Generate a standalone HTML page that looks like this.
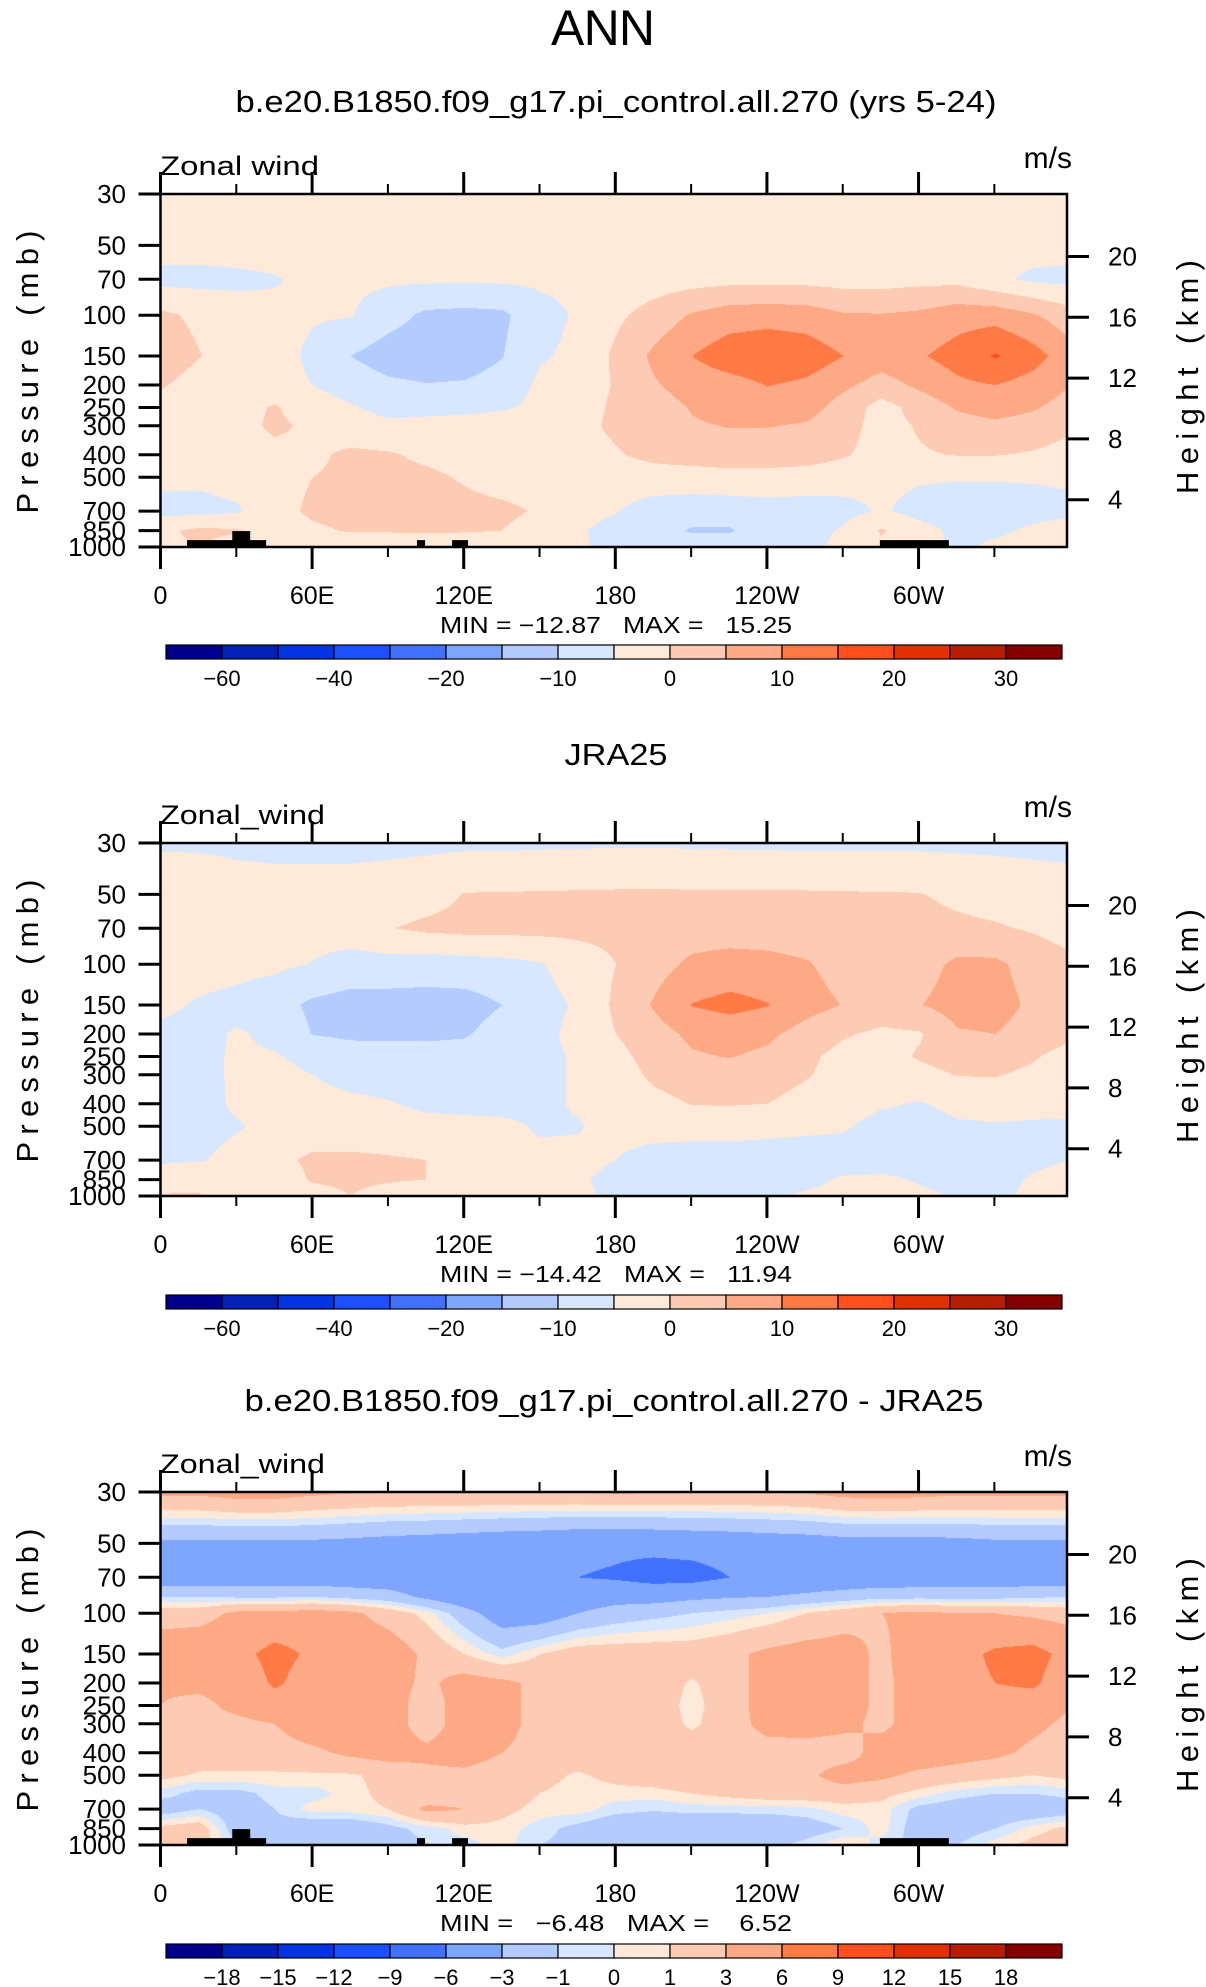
<!DOCTYPE html>
<html>
<head>
<meta charset="utf-8">
<style>
html,body{margin:0;padding:0;background:#fff;}
#page{position:relative;width:1206px;height:1987px;overflow:hidden;background:#fff;}
canvas{position:absolute;}
#overlay{position:absolute;left:0;top:0;}
text{font-family:"Liberation Sans",sans-serif;fill:#000;}
</style>
</head>
<body>
<div id="page">
<canvas id="cv0"></canvas>
<canvas id="cv1"></canvas>
<canvas id="cv2"></canvas>
<svg id="overlay" width="1206" height="1987" xmlns="http://www.w3.org/2000/svg">
<text x="603" y="45" font-size="50" text-anchor="middle" textLength="104">ANN</text>
<text x="616" y="112" font-size="31" text-anchor="middle" textLength="761" lengthAdjust="spacingAndGlyphs">b.e20.B1850.f09_g17.pi_control.all.270 (yrs 5-24)</text>
<text x="616" y="765" font-size="31" text-anchor="middle" textLength="103" lengthAdjust="spacingAndGlyphs">JRA25</text>
<text x="614" y="1411" font-size="31" text-anchor="middle" textLength="739" lengthAdjust="spacingAndGlyphs">b.e20.B1850.f09_g17.pi_control.all.270 - JRA25</text>
<g id="axes"></g>
</svg>
</div>
<script>
// ---------- data ----------
const lonGrid = [0,15,30,45,60,75,90,105,120,135,150,165,180,195,210,225,240,255,270,285,300,315,330,345,360];
const levs12 = [30,50,70,100,150,200,250,300,400,500,700,850,1000];
const levs3 = [30,50,70,85,100,150,200,250,300,400,500,600,700,850,1000];

const modelU = [
[2,2,2,2,2,2,2,2,2,2,2,2,2,2,2,2,2,2,2,2,2,2,2,2,2],
[2,2,2,2,2,2,2,2,2,2,2,2,2,2,2,2,2,2,2,2,2,2,2,2,2],
[-1.5,-1.5,-1,-0.3,1,1,0.8,0.8,0.8,0.8,0.8,1,1.5,2.5,3,3.5,3.5,3.5,3,3,3.5,3.5,1,-1,-1.5],
[6,4,2,1,0.5,0.3,-3,-6,-6.5,-6,-1.5,0.5,4,7,10.5,12.5,13,12.5,10.5,10.3,11,13,13,10.5,7],
[8,5.2,3,2,-1,-5,-7.5,-8,-7.5,-5.2,-0.5,1,6,11,15,18,19,18,15,12.5,14.5,17,20.5,17,12],
[5.5,3,2,1.5,0,-2,-4,-4.8,-4.5,-3,1,2,5.5,9.5,12,13,15.2,14,11,8,11,14,15,13,10],
[3,2.5,3,5.5,2,0.5,-1.5,-1,-1,-0.5,1,2.5,6,8,10.3,12,12.5,12,8,3,7,10.5,12,10.5,8],
[2,2,3,6,4,2,1,1,1.5,2,2.5,3.5,6,8,9.5,10.2,10.2,9.5,7,3,5.5,8,9,8,6],
[2,2,2.5,3.5,4,6,5.5,4,3,2.5,2.5,3,4.5,6.5,7.5,8,8,7.5,5.5,3,4.5,5.2,5.2,4.5,3],
[1,1,1.5,3,5,6,6.5,6,4.5,3,2.5,2,2,2.5,2.5,3,3,2.5,2,1,0.5,0.3,0.3,0.5,1],
[-1.5,-1.5,-0.5,3,6,7,7,7,6.5,6,4.5,1.5,0.2,-2,-2.5,-2.5,-2,-2,-1.5,0.5,-1.5,-2,-2,-2,-1.5],
[4,6,5.5,3,4,5.5,5.5,5.5,5.5,5,3,0.5,-1.5,-3,-5.5,-5.5,-2,-1.5,0.5,5.5,1.5,-1,-1,1,3],
[4,5,3,1,1,1,1,2,1,1,1,0.5,-1,-2,-2,-2,-2,-1,1,4,2,-1,1,2,4]
];

const obsU = [
[-1,-1,-1,-1,-1,-1,-1,-1,-1,-1,-0.8,-0.7,-0.6,-0.6,-0.7,-0.8,-0.9,-1,-1,-1,-1,-1,-1,-1,-1],
[5.1,4,2,1.5,1.5,1.5,2,3,5.2,5.3,5.4,5.5,5.6,5.6,5.6,5.5,5.5,5.5,5.4,5.3,5.2,4,3,2,1.5],
[1.5,1.5,1.5,1.5,2,2.5,4.8,6,6.5,6.5,6.5,6.5,6.5,7,7.5,7.5,7.5,7,6.5,6.5,6.5,6,5.5,4.5,3],
[2,2,1.5,1,-0.2,-2,-2,-2.5,-2,-1.5,-0.3,2,5,8,11,12,11.5,10.5,8,7,8,11,11,8,6],
[1,-0.5,-1.5,-3,-6,-7,-7,-7,-7,-5,-1.5,0.5,6,10.5,15.2,16.5,15.2,12,9.8,8,9.8,12,12,9,6],
[-1,-1.5,0.5,-1,-5.2,-6,-6,-6,-5.5,-3,-1.5,1.5,5,8,11,12,11,8,5.5,4,4.5,9.5,10,8,6],
[-1,-1,0.5,0.3,-1,-2.5,-3,-3,-3,-2,-1,0.5,3.5,7,9.5,10.2,9,6,3.5,3,5.5,7,7,5.5,3],
[-1,-1,0.5,1,0,-1.5,-2,-2.5,-2.5,-2,-1,0.5,2.5,6,7.5,8,7.5,5.5,3,2.5,3.5,5.2,5.3,4,2],
[-1,-1.2,0.5,1.5,1.5,1,0.3,-1,-1.5,-1.5,-1,0.5,2,3.5,5.2,5.3,5,3,2,0.5,-0.3,1,1.5,1.2,1],
[-1,-1,-0.3,1,2,2,2,1.5,1.5,1,-0.5,-0.3,1.5,2,2,2,1.5,1,0.5,-1.5,-1.5,-0.5,-0.3,-0.5,-0.5],
[-0.5,-0.3,1,3.5,6,6,5.5,5,2,1,1,1,0,-2,-2.5,-2.5,-2.5,-2.5,-2,-2.5,-2.5,-2.5,-2,-1,0],
[2,3,1,2,5.5,6,5.5,5,1.5,1,1,0.5,-1,-2,-2,-2,-1.5,-1,0.5,1,-0.5,-1.5,-1.5,0.5,2],
[5.5,5.5,2,1.5,3,5,3,1,1,1,1,0.5,-0.5,-1,-1,-1,-0.5,0.5,1,4,1,-0.5,-1,1,2]
];

const diffU = [
[3.5,3.5,4,4,3.5,3.2,3,3,3,3,3,3,3.3,3.2,3,3,3,3.2,3.8,4,3.8,3.5,3.5,3.5,3.5],
[-3.5,-3.5,-3.5,-3.5,-3.5,-3.7,-4,-4.2,-4.5,-4.8,-5,-5.3,-5.5,-5.3,-5,-4.8,-4.5,-4.3,-4,-4,-4,-3.8,-3.5,-3.5,-3.5],
[-4.5,-4.5,-4.5,-4.5,-4.5,-4.6,-4.7,-4.8,-5,-5.5,-5.5,-6,-6.3,-7,-7,-6,-5.5,-5,-4.8,-4.7,-4.6,-4.5,-4.5,-4.5,-4.5],
[-1,-1,-1.2,-1.2,-1,-1.5,-2,-3.5,-5,-5.5,-5,-4.5,-4,-4,-3.5,-3.2,-3,-2.5,-2,-1.5,-1.5,-1.5,-1.5,-1.2,-1],
[2,2,3.5,3.5,4,3.5,2,0.5,-2,-4.5,-4.5,-3,-2,-1.5,-1,-0.5,0,1,2,3,3.5,3,3,2.5,2],
[4.5,5,5,7,5.5,5,4.5,2.5,1,-0.5,1,2,2,2,2,2.5,3.5,4,4,2.5,4.5,5,6.5,7,5],
[3.2,3.5,3.7,6.5,4.5,4.5,4,2.5,4,3.5,2.5,2,2,2,0.8,2,4,4.5,4,2.5,4,5,6,6.5,4],
[3,2.5,3.5,4.5,4.5,4,4,2,4,4,2,2,2,2,0.5,2,4,4.5,4,2.5,4,5,5,4.5,3],
[2.5,2.5,2.5,3,4.5,4.5,4,2,4,4,2,2,2,2,0.7,2,3.8,4,3.5,2.5,4,4.5,4.5,3.5,2.5],
[2,2,2,2,2.5,3.5,4,3.5,4,3,2,2,2,2,2,2,2,2,2,4,4.5,4,3.5,2.5,2],
[1.5,0.8,0.8,0.8,0.8,0.8,1.5,2.5,2.5,2,1.5,0.8,1.5,2,2.5,2,2,2.5,4,3.5,2.5,2,1.5,1,1.5],
[-0.5,-1.5,-1.5,-0.5,-0.5,0.5,1.5,1.5,2,2,1,0.5,0.5,0.5,1,1.5,2,2,2,1.5,0.5,-0.5,-1,-1,-0.5],
[-2,-1,-2,-1,0.5,0.5,1,3.5,3,1.5,0.5,0.5,-0.5,-0.8,-0.5,-0.5,-0.5,-0.3,0.5,0.5,-1.5,-2,-2.5,-2.5,-2],
[1.5,2,-2,-1.5,-2.5,-2.5,-1.5,-0.5,0.5,0.5,-0.5,-1.5,-2.5,-2.8,-2.8,-2.8,-2.5,-2,-1,0.5,-2,-2,-1,0.5,1.5],
[2,2,-1,-2,-2.5,-2.5,-2,-1,-0.5,0.5,-1,-1.5,-2,-2,-2,-2,-1.5,-0.5,1,-0.5,-1.5,-1,0.5,1.5,2]
];

const levelsAbs = [-50,-40,-30,-20,-15,-10,-5,0,5,10,15,20,25,30,35];
const levelsDiff = [-18,-15,-12,-9,-6,-3,-1,0,1,3,6,9,12,15,18];
const cbLabelsAbs = ["−60","","−40","","−20","","−10","","0","","10","","20","","30"];
const cbLabelsDiff = ["−18","−15","−12","−9","−6","−3","−1","0","1","3","6","9","12","15","18"];
const palette = ["#00008c","#0321b5","#0333e3","#1b4fff","#4172ff","#7fa6ff","#b3cbff","#d6e7ff","#ffeada","#fdcbb3","#fda985","#ff7a45","#ff4f1d","#e03200","#b51e00","#870000"];

const pTicks = [30,50,70,100,150,200,250,300,400,500,700,850,1000];
const hTicks = [4,8,12,16,20];
const lonMajor = [0,60,120,180,240,300];
const lonLabels = ["0","60E","120E","180","120W","60W"];
const lonMinor = [30,90,150,210,270,330];
// land mask: [lon start, lon end, top pressure]
const landLon0 = [10.5,28.4,101.5,115.4,284.7];
const landLon1 = [41.8,35.5,104.7,121.7,312];
const landTop = [934,854,934,934,934];
const minMax = ["MIN = −12.87   MAX =   15.25","MIN = −14.42   MAX =   11.94","MIN =   −6.48   MAX =    6.52"];

// ---------- geometry ----------
const PL = 160.5, PW = 906.5, PH = 353, LONMAX = 358.75;
const tops = [194, 843, 1492];
const CBX = 166, CBW = 56, CBH = 14;
const cbTops = [645, 1295, 1944];
const LN = Math.log(1000/30);
function xs(lon){ return PL + lon*PW/LONMAX; }
function ys(p, top){ return top + PH*Math.log(p/30)/LN; }
function yh(z, top){ return top + 62.5 + (20 - z)*15.2; }

function sample(grid, levs, lon, p){
  let k = 0;
  while (k < levs.length-2 && p > levs[k+1]) k++;
  let t = (Math.log(p) - Math.log(levs[k]))/(Math.log(levs[k+1]) - Math.log(levs[k]));
  t = Math.max(0, Math.min(1, t));
  let i = Math.min(Math.floor(lon/15), lonGrid.length-2);
  let u = (lon - lonGrid[i])/15;
  const a = grid[k][i], b = grid[k][i+1], c = grid[k+1][i], d = grid[k+1][i+1];
  return (a*(1-u) + b*u)*(1-t) + (c*(1-u) + d*u)*t;
}
function hex(h){ return [parseInt(h.substr(1,2),16),parseInt(h.substr(3,2),16),parseInt(h.substr(5,2),16)]; }
const rgb = palette.map(hex);

function drawField(id, grid, levs, bounds, top){
  const cv = document.getElementById(id);
  const w = Math.round(PW), h = PH;
  cv.width = w; cv.height = h;
  cv.style.left = PL + 'px'; cv.style.top = top + 'px';
  const ctx = cv.getContext('2d');
  const img = ctx.createImageData(w, h);
  for (let j = 0; j < h; j++){
    const p = 30*Math.exp((j+0.5)/h*LN);
    for (let i = 0; i < w; i++){
      const lon = (i+0.5)/w*LONMAX;
      const v = sample(grid, levs, lon, p);
      let c = 0;
      while (c < bounds.length && v >= bounds[c]) c++;
      const col = rgb[c];
      const o = (j*w + i)*4;
      img.data[o] = col[0]; img.data[o+1] = col[1]; img.data[o+2] = col[2]; img.data[o+3] = 255;
    }
  }
  ctx.putImageData(img, 0, 0);
}
drawField('cv0', modelU, levs12, levelsAbs, tops[0]);
drawField('cv1', obsU, levs12, levelsAbs, tops[1]);
drawField('cv2', diffU, levs3, levelsDiff, tops[2]);

// ---------- axes ----------
const NS = "http://www.w3.org/2000/svg";
const g = document.getElementById('axes');
function el(tag, attrs, parent){
  const e = document.createElementNS(NS, tag);
  for (const k in attrs) e.setAttribute(k, attrs[k]);
  (parent || g).appendChild(e);
  return e;
}
function txt(s, attrs, parent){ const e = el('text', attrs, parent); e.textContent = s; return e; }

for (let pi = 0; pi < 3; pi++){
  const top = tops[pi], bot = top + PH;
  const pg = el('g', {});
  
  
  if (pi !== 1){
    for (let k = 0; k < landLon0.length; k++){
      const r = el('rect', {x: xs(landLon0[k]), y: ys(landTop[k], top), width: xs(landLon1[k]) - xs(landLon0[k]), height: bot - ys(landTop[k], top), fill: '#000'}, pg);
      
      
    }
  }
  const fr = el('rect', {x: PL, y: top, width: PW, height: PH, fill: 'none', stroke: '#000', 'stroke-width': 2.5}, pg);
  
  
  for (let k = 0; k < pTicks.length; k++){
    const y = ys(pTicks[k], top);
    const t = el('line', {x1: PL-22, x2: PL, y1: y, y2: y, stroke: '#000', 'stroke-width': 3}, pg);
    
    
    const l = txt(String(pTicks[k]), {x: 126, y: y+9, 'font-size': 26, 'text-anchor': 'end'}, pg);
    
    
  }
  for (let k = 0; k < hTicks.length; k++){
    const y = yh(hTicks[k], top);
    const t = el('line', {x1: PL+PW, x2: PL+PW+22, y1: y, y2: y, stroke: '#000', 'stroke-width': 3}, pg);
    
    
    const l = txt(String(hTicks[k]), {x: 1108, y: y+9, 'font-size': 26}, pg);
    
    
  }
  for (let k = 0; k < lonMajor.length; k++){
    const x = xs(lonMajor[k]);
    const t1 = el('line', {x1: x, x2: x, y1: top-22, y2: top, stroke: '#000', 'stroke-width': 3}, pg);
    
    
    const t2 = el('line', {x1: x, x2: x, y1: bot, y2: bot+22, stroke: '#000', 'stroke-width': 3}, pg);
    
    
    const l = txt(lonLabels[k], {x: x, y: bot+57, 'font-size': 25, 'text-anchor': 'middle'}, pg);
    
    
  }
  for (let k = 0; k < lonMinor.length; k++){
    const x = xs(lonMinor[k]);
    const t1 = el('line', {x1: x, x2: x, y1: top-10, y2: top, stroke: '#000', 'stroke-width': 2}, pg);
    
    
    const t2 = el('line', {x1: x, x2: x, y1: bot, y2: bot+10, stroke: '#000', 'stroke-width': 2}, pg);
    
    
  }
  const zl = txt(pi === 0 ? 'Zonal wind' : 'Zonal_wind', {x: 160, y: top-19, 'font-size': 27, textLength: pi === 0 ? 159 : 165, lengthAdjust: 'spacingAndGlyphs'}, pg);
  
  
  const ul = txt('m/s', {x: 1072, y: top-26, 'font-size': 30, 'text-anchor': 'end'}, pg);
  
  
  const yc = top + 178;
  const pl = txt('Pressure  (mb)', {x: 38, y: yc, 'font-size': 31, 'text-anchor': 'middle', textLength: 283, lengthAdjust: 'spacing', transform: 'rotate(-90 38 ' + yc + ')'}, pg);
  
  
  const hl = txt('Height  (km)', {x: 1198, y: yc+5, 'font-size': 31, 'text-anchor': 'middle', textLength: 234, lengthAdjust: 'spacing', transform: 'rotate(-90 1198 ' + (yc+5) + ')'}, pg);
  
  
  const mm = txt(minMax[pi], {x: 616, y: bot+86, 'font-size': 23, 'text-anchor': 'middle', 'xml:space': 'preserve', style: 'white-space:pre', textLength: 352, lengthAdjust: 'spacingAndGlyphs'}, pg);
  
  
  const cbg = el('g', {}, pg);
  
  
  const cy = cbTops[pi];
  for (let c = 0; c < palette.length; c++){
    const r = el('rect', {x: CBX + c*CBW, y: cy, width: CBW, height: CBH, fill: palette[c], stroke: '#000', 'stroke-width': 1.2}, cbg);
    
    
  }
  const labs = pi === 2 ? cbLabelsDiff : cbLabelsAbs;
  for (let b = 0; b < labs.length; b++){
    if (!labs[b]) continue;
    const l = txt(labs[b], {x: CBX + (b+1)*CBW, y: cy + 41, 'font-size': 22, 'text-anchor': 'middle'}, cbg);
    
    
  }
}
</script>
</body>
</html>
